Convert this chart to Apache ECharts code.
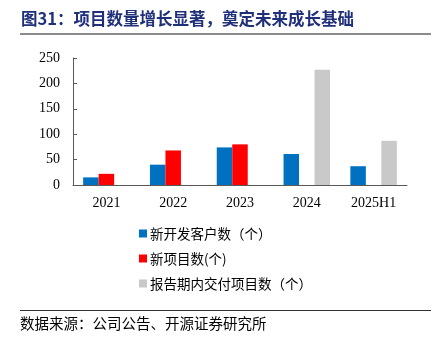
<!DOCTYPE html>
<html><head><meta charset="utf-8">
<script src="https://cdn.jsdelivr.net/npm/echarts@6/dist/echarts.min.js"></script>
<style>html,body{margin:0;padding:0;background:#fff}#c{width:440px;height:341px}</style>
</head><body><div id="c"></div>
<script>
var categories = ['2021', '2022', '2023', '2024', '2025H1'];
var newClients = [15, 40, 74, 61, 37];
var newProjects = [22, 68, 80, null, null];
var deliveredProjects = [null, null, null, 227, 87];
var seriesNames = ['新开发客户数（个）', '新项目数(个)', '报告期内交付项目数（个）'];
var yTicks = [0, 50, 100, 150, 200, 250];
var titleText = '图31：项目数量增长显著，奠定未来成长基础';
var sourceText = '数据来源：公司公告、开源证券研究所';

var chart = echarts.init(document.getElementById('c'));
var cjk = '"Noto Sans CJK SC", sans-serif';
var serif = '"Liberation Serif", "DejaVu Serif", serif';
chart.setOption({
  animation: false,
  backgroundColor: '#fff',
  grid: {left: 73, right: 33, top: 58, bottom: 156, containLabel: false},
  xAxis: {
    type: 'category', data: categories,
    axisLine: {lineStyle: {color: '#595959', width: 1}},
    axisTick: {inside: true, length: 4, lineStyle: {color: '#595959'}},
    axisLabel: {color: '#000', fontFamily: serif, fontSize: 14, margin: 11}
  },
  yAxis: {
    type: 'value', min: yTicks[0], max: yTicks[yTicks.length - 1], interval: 50,
    splitLine: {show: false},
    axisLine: {show: true, lineStyle: {color: '#595959', width: 1}},
    axisTick: {show: true, inside: true, length: 4, lineStyle: {color: '#595959'}},
    axisLabel: {color: '#000', fontFamily: serif, fontSize: 14, margin: 13}
  },
  legend: {
    orient: 'vertical', left: 134, top: 220, itemWidth: 8, itemHeight: 8, itemGap: 8,
    icon: 'rect',
    textStyle: {fontFamily: cjk, fontSize: 13.5, color: '#000', padding: [0, 0, 0, -2], lineHeight: 17},
    data: seriesNames
  },
  series: [
    {name: seriesNames[0], type: 'bar', data: newClients, barWidth: 15.5, barGap: '0%', itemStyle: {color: '#0070C0'}},
    {name: seriesNames[1], type: 'bar', data: newProjects, barWidth: 15.5, barGap: '0%', itemStyle: {color: '#FF0000'}},
    {name: seriesNames[2], type: 'bar', data: deliveredProjects, barWidth: 15.5, barGap: '0%', itemStyle: {color: '#C9C9C9'}}
  ],
  graphic: [
    {type: 'text', left: 21, top: 10, style: {text: titleText, fill: '#1F2F7A', font: 'bold 16.5px ' + cjk}},
    {type: 'rect', shape: {x: 20, y: 33, width: 411, height: 2}, style: {fill: '#8C8C8C'}},
    {type: 'rect', shape: {x: 20, y: 310, width: 411, height: 1}, style: {fill: '#333'}},
    {type: 'text', left: 20, top: 316, style: {text: sourceText, fill: '#000', font: '14.5px ' + cjk}}
  ]
});
</script></body></html>
